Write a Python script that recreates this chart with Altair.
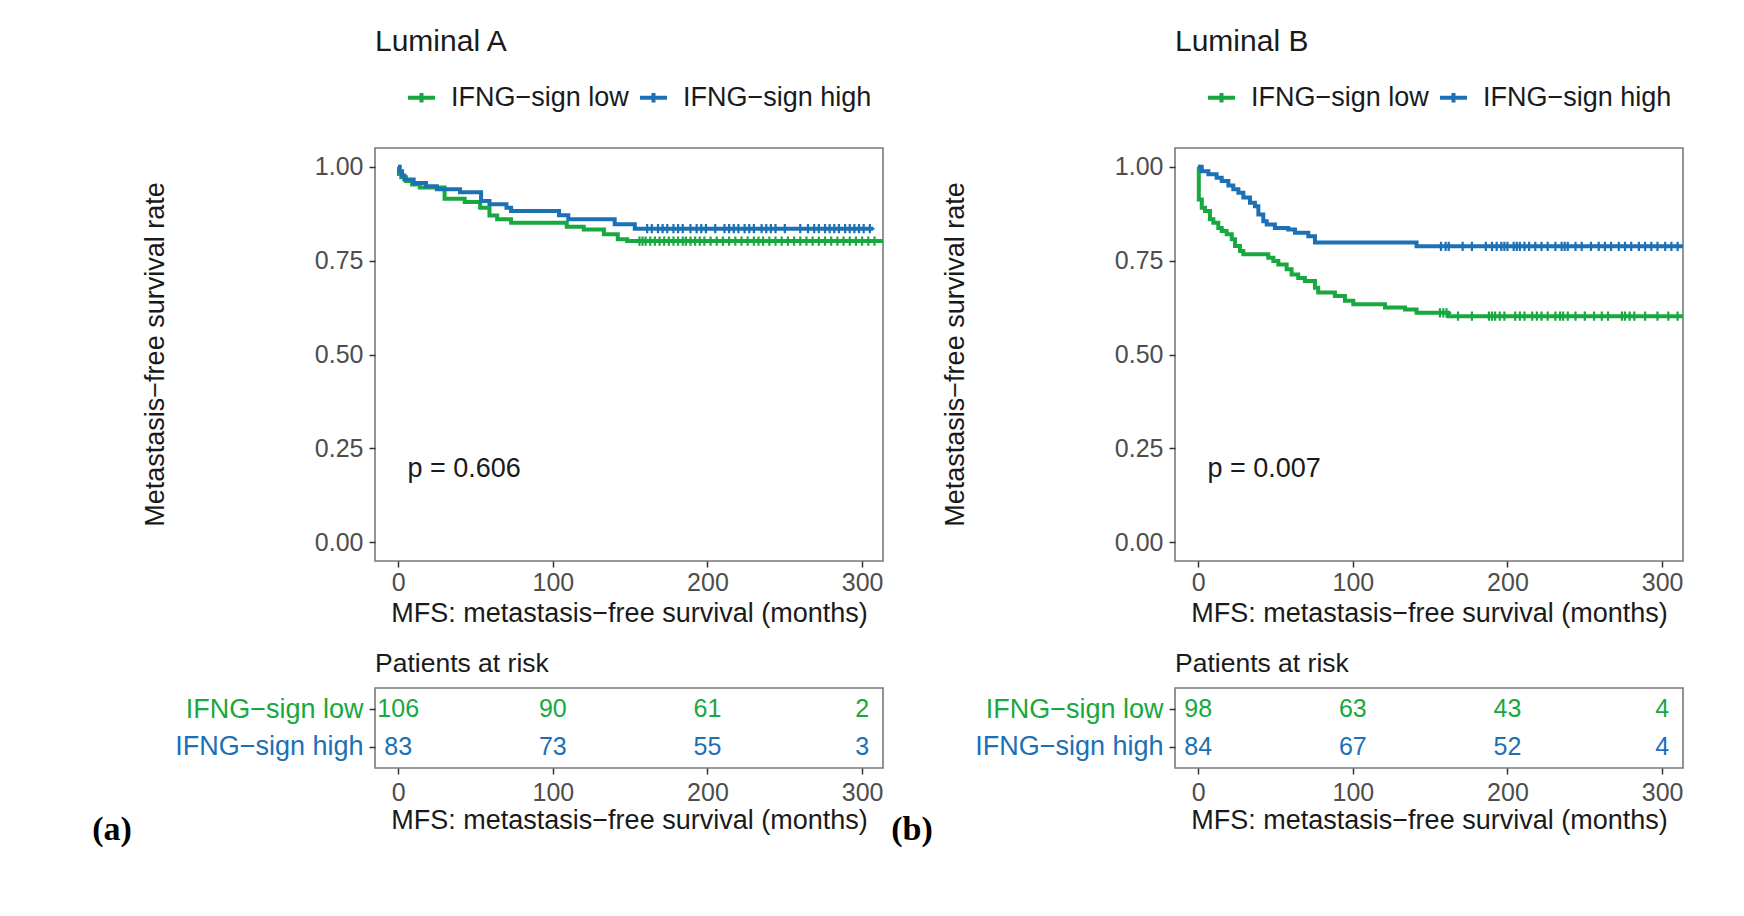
import altair as alt
import pandas as pd

LOW = "IFNG\u2212sign low"
HIGH = "IFNG\u2212sign high"
GREEN = "#17A83F"
BLUE = "#1C70B5"
XTITLE = "MFS: metastasis\u2212free survival (months)"
YTITLE = "Metastasis\u2212free survival rate"
FONT = "Liberation Sans"

# ---------------- Panel A (Luminal A) ----------------
a_low_time = [0, 0.5, 2, 5, 9, 14, 30, 43, 53, 59, 64, 73, 109, 120, 133, 142, 148, 314]
a_low_surv = [1.0, 0.981, 0.972, 0.962, 0.953, 0.945, 0.915, 0.906, 0.891, 0.870, 0.860,
              0.851, 0.840, 0.833, 0.820, 0.807, 0.802, 0.802]
a_high_time = [0, 1, 2.5, 4, 10, 18, 25, 40, 53.6, 59, 70, 73, 104, 110, 140, 153, 307]
a_high_surv = [1.0, 0.988, 0.977, 0.966, 0.957, 0.948, 0.940, 0.932, 0.909, 0.900, 0.891,
               0.882, 0.871, 0.860, 0.847, 0.835, 0.835]
a_low_cens = [156, 158, 160, 163, 166, 169, 172, 175, 178, 181, 184, 186, 189, 192, 195, 198,
              202, 206, 210, 214, 218, 222, 226, 230, 233, 236, 240, 244, 248, 252, 256, 260,
              264, 268, 272, 276, 280, 284, 288, 292, 296, 300, 304, 308]
a_high_cens = [161, 164, 168, 171, 174, 178, 181, 184, 189, 193, 196, 199, 205, 211, 214, 217,
               220, 224, 227, 230, 235, 238, 241, 244, 250, 260, 265, 269, 272, 276, 279, 282,
               285, 289, 292, 295, 298, 301, 305]
a_risk_low = [106, 90, 61, 2]
a_risk_high = [83, 73, 55, 3]
a_pval = "p = 0.606"

# ---------------- Panel B (Luminal B) ----------------
b_low_time = [0, 0.4, 2.3, 4.4, 7.6, 9.8, 13, 15.2, 18.4, 21.7, 23.8, 27, 29.2, 45.3, 48.6,
              51.8, 57.2, 60.4, 64.7, 69, 75.5, 77.6, 88.4, 94.9, 100.3, 120.8, 133.7, 141.2,
              161.7, 314]
b_low_surv = [1.0, 0.913, 0.891, 0.882, 0.860, 0.851, 0.837, 0.829, 0.820, 0.807, 0.789,
              0.776, 0.767, 0.758, 0.749, 0.740, 0.727, 0.713, 0.704, 0.696, 0.678, 0.665,
              0.656, 0.643, 0.634, 0.625, 0.620, 0.611, 0.602, 0.602]
b_high_time = [0, 2.3, 6.6, 11.9, 15.2, 19.5, 22.7, 26, 29.2, 33.5, 36.7, 38.9, 42.1, 44.3,
               49.6, 58.2, 62.6, 71.2, 75.5, 141.2, 314]
b_high_surv = [1.0, 0.988, 0.980, 0.971, 0.962, 0.950, 0.940, 0.931, 0.918, 0.904, 0.895,
               0.873, 0.855, 0.846, 0.837, 0.833, 0.824, 0.815, 0.798, 0.788, 0.788]
b_low_cens = [156.3, 158.5, 160.6, 168, 177, 188, 190, 192, 195, 198, 205, 208, 211, 216, 219,
              222, 226, 231, 234, 236, 239, 244, 250, 256, 261, 265, 274, 276, 279, 282, 289,
              297, 304, 310]
b_high_cens = [157, 160, 162, 171, 177, 186, 190, 193, 196, 198, 200, 204, 206, 208, 211, 214,
               218, 222, 226, 231, 235, 237, 239, 244, 248, 254, 259, 263, 267, 272, 276, 280,
               285, 289, 293, 297, 302, 306, 310]
b_risk_low = [98, 63, 43, 4]
b_risk_high = [84, 67, 52, 4]
b_pval = "p = 0.007"

risk_times = [0, 100, 200, 300]
x_ticks = [0, 100, 200, 300]
y_ticks = [0, 0.25, 0.5, 0.75, 1.0]

CS = alt.Scale(domain=[LOW, HIGH], range=[GREEN, BLUE])
XS = alt.Scale(domain=[-15, 313.5], nice=False, zero=False)
YS = alt.Scale(domain=[-0.05, 1.05], nice=False, zero=False)
PLUS = "M-1,0H1M0,-1V1"


def step_at(times, survs, t):
    val = survs[0]
    for ti, si in zip(times, survs):
        if ti <= t:
            val = si
    return val


def km_panel(lt, ls, ht, hs, lc, hc, title, ptext):
    curves = pd.concat([
        pd.DataFrame({"time": lt, "surv": ls, "group": LOW}),
        pd.DataFrame({"time": ht, "surv": hs, "group": HIGH}),
    ])
    cens = pd.concat([
        pd.DataFrame({"time": lc, "surv": [step_at(lt, ls, t) for t in lc], "group": LOW}),
        pd.DataFrame({"time": hc, "surv": [step_at(ht, hs, t) for t in hc], "group": HIGH}),
    ])
    x = alt.X("time:Q", scale=XS,
              axis=alt.Axis(values=x_ticks, title=XTITLE, labelPadding=3,
                            titleY=52, titleBaseline="middle"))
    y = alt.Y("surv:Q", scale=YS,
              axis=alt.Axis(values=y_ticks, format=".2f", title=YTITLE, labelPadding=6,
                            titleX=-219.5, titleY=206, titleBaseline="middle",
                            titleAlign="center", titleAngle=270))
    color = alt.Color("group:N", scale=CS,
                      legend=alt.Legend(orient="none", legendX=31, legendY=-66,
                                        direction="horizontal", title=None,
                                        symbolType="M-1,0H1M0,-0.35V0.35", symbolSize=729,
                                        symbolStrokeWidth=4, symbolFillColor="transparent",
                                        labelFontSize=27, labelOffset=14, columnPadding=3,
                                        labelColor="#1a1a1a", labelFont=FONT, padding=0,
                                        labelLimit=0))
    lines = alt.Chart(curves).mark_line(interpolate="step-after", strokeWidth=4,
                                        clip=True).encode(x=x, y=y, color=color)
    pts = alt.Chart(cens).mark_point(shape=PLUS, filled=False, size=85, strokeWidth=2.2,
                                     opacity=1).encode(x=x, y=y, color=color)
    ptxt = alt.Chart(pd.DataFrame({"time": [6], "surv": [0.195], "label": [ptext]})).mark_text(
        align="left", baseline="middle", fontSize=27, color="#1a1a1a", font=FONT
    ).encode(x=x, y=y, text="label:N")
    return alt.layer(lines, pts, ptxt).properties(
        width=508, height=413,
        title=alt.TitleParams(title, anchor="start", frame="group", fontSize=30,
                              fontWeight="normal", color="#1a1a1a", font=FONT,
                              baseline="alphabetic", offset=1))


def risk_panel(low_n, high_n, tag):
    df = pd.DataFrame({"time": risk_times + risk_times,
                       "group": [LOW] * 4 + [HIGH] * 4,
                       "n": low_n + high_n})
    x = alt.X("time:Q", scale=XS,
              axis=alt.Axis(values=x_ticks, title=XTITLE, labelPadding=6,
                            titleY=52, titleBaseline="middle"))
    y = alt.Y("group:N", sort=[LOW, HIGH], scale=alt.Scale(type="point", padding=0.56),
              axis=alt.Axis(title=None, labelPadding=6, labelFontSize=27, labelLimit=0,
                            labelColor={"expr": "indexof(datum.value, 'low') >= 0 ? '%s' : '%s'" % (GREEN, BLUE)}))
    txt = alt.Chart(df).mark_text(fontSize=25, font=FONT).encode(
        x=x, y=y, text="n:Q",
        color=alt.Color("group:N", scale=CS, legend=None))
    lab = alt.Chart(pd.DataFrame({"t": [tag]})).mark_text(
        font="Liberation Serif", fontSize=34, fontWeight="bold", color="#000000",
        align="center", baseline="middle"
    ).encode(text="t:N", x=alt.value(-263), y=alt.value(142))
    return alt.layer(txt, lab).properties(
        width=508, height=80,
        title=alt.TitleParams("Patients at risk", anchor="start", frame="group", fontSize=26.5,
                              fontWeight="normal", color="#1a1a1a", font=FONT,
                              baseline="alphabetic", offset=-10))


def panel(lt, ls, ht, hs, lc, hc, rl, rh, title, ptext, tag):
    return alt.vconcat(
        km_panel(lt, ls, ht, hs, lc, hc, title, ptext),
        risk_panel(rl, rh, tag),
        spacing=22,
    ).resolve_scale(x="independent", y="independent").resolve_legend(color="independent")


pa = panel(a_low_time, a_low_surv, a_high_time, a_high_surv, a_low_cens, a_high_cens,
           a_risk_low, a_risk_high, "Luminal A", a_pval, "(a)")
pb = panel(b_low_time, b_low_surv, b_high_time, b_high_surv, b_low_cens, b_high_cens,
           b_risk_low, b_risk_high, "Luminal B", b_pval, "(b)")

chart = alt.hconcat(pa, pb, spacing=5).resolve_legend(color="independent").properties(
    padding={"left": 83, "top": 18, "right": 5, "bottom": 5}
).configure(font=FONT).configure_view(
    stroke="#7a7a7a", strokeWidth=1.6
).configure_axis(
    domain=False, grid=False, tickColor="#333333", tickWidth=1.5, tickSize=6,
    labelFont=FONT, labelFontSize=25, labelColor="#4d4d4d",
    titleFont=FONT, titleFontSize=27, titleFontWeight="normal", titleColor="#1a1a1a",
    labelOverlap=False
)

chart.save("out.html", embed_options={"renderer": "svg", "actions": False})
